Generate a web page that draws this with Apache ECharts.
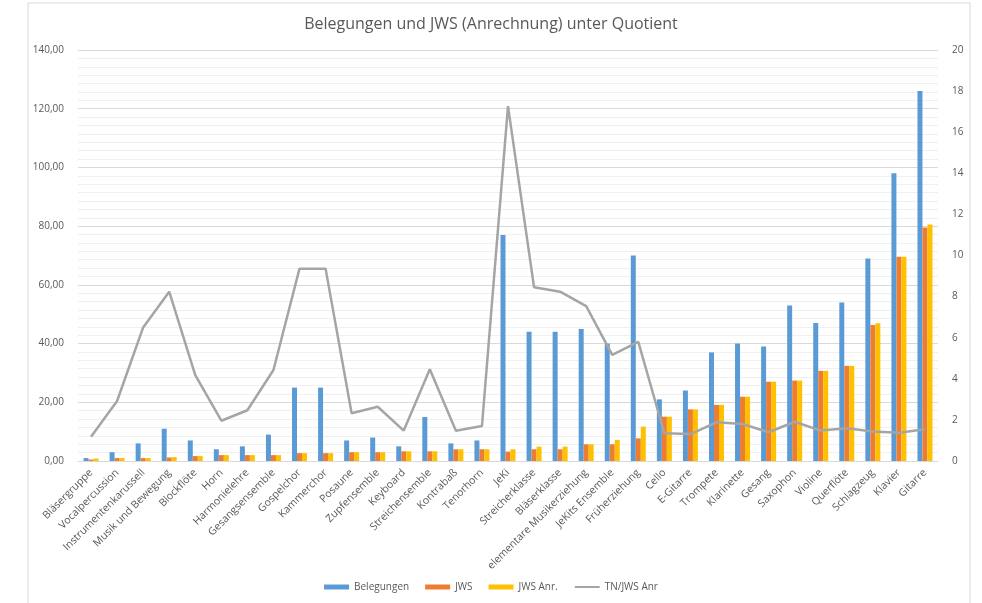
<!DOCTYPE html>
<html>
<head>
<meta charset="utf-8">
<script src="https://cdn.jsdelivr.net/npm/echarts@6/dist/echarts.min.js"></script>
<style>html,body{margin:0;padding:0;background:#fff;}#c{width:982px;height:603px;}</style>
</head>
<body>
<div id="c"></div>
<script>
const categories = ["Bläsergruppe","Vocalpercussion","Instrumentenkarussell","Musik und Bewegung","Blockflöte","Horn","Harmonielehre","Gesangsensemble","Gospelchor","Kammerchor","Posaune","Zupfensemble","Keyboard","Streichensemble","Kontrabaß","Tenorhorn","JeKi","Streicherklasse","Bläserklasse","elementare Musikerziehung","JeKits Ensemble","Früherziehung","Cello","E-Gitarre","Trompete","Klarinette","Gesang","Saxophon","Violine","Querflöte","Schlagzeug","Klavier","Gitarre"];
const belegungen = [1,3,6,11,7,4,5,9,25,25,7,8,5,15,6,7,77,44,44,45,40,70,21,24,37,40,39,53,47,54,69,98,126];
const jws = [0.5,1,1,1.2,1.67,2,2,2,2.67,2.67,3,3,3.3,3.3,4,4,3.2,4,4,5.7,5.7,7.7,15.1,17.6,19.1,21.9,27,27.4,30.7,32.4,46.3,69.6,79.5];
const jwsAnr = [0.85,1,1,1.33,1.67,2,2,2,2.67,2.67,3,3,3.3,3.3,4,4,4,4.9,4.9,5.7,7.2,11.7,15.1,17.6,19.1,21.9,27,27.4,30.7,32.4,46.9,69.6,80.6];
const tnJwsAnr = [1.18,2.92,6.5,8.24,4.18,1.96,2.47,4.43,9.36,9.36,2.32,2.64,1.48,4.46,1.47,1.7,17.27,8.45,8.24,7.54,5.16,5.8,1.35,1.31,1.88,1.8,1.4,1.91,1.48,1.59,1.43,1.38,1.54];
const leftTicks = {min:0, max:140, interval:20};
const rightTicks = {min:0, max:20, interval:2};

const FONT = "'Open Sans', 'Noto Sans', sans-serif";
const chart = echarts.init(document.getElementById('c'), null, {renderer:'canvas'});
chart.setOption({
  backgroundColor:'#fff',
  animation:false,
  textStyle:{fontFamily:FONT},
  graphic:[{type:'rect', shape:{x:28, y:3, width:942, height:610}, style:{fill:'none', stroke:'#d9d9d9', lineWidth:1}, silent:true, z:-1}],
  title:{text:'Belegungen und JWS (Anrechnung) unter Quotient', left:'center', top:11,
    textStyle:{fontFamily:FONT, fontSize:16, fontWeight:'normal', color:'#595959'}},
  legend:{bottom:6, left:'center', itemGap:16, itemWidth:25, itemHeight:5,
    textStyle:{fontFamily:FONT, fontSize:10, color:'#595959'},
    data:[{name:'Belegungen', icon:'rect'},{name:'JWS', icon:'rect'},{name:'JWS Anr.', icon:'rect'},
          {name:'TN/JWS Anr', itemStyle:{opacity:0}}]},
  grid:{left:78, right:44, top:50, bottom:142},
  xAxis:{type:'category', data:categories,
    axisLine:{lineStyle:{color:'#d9d9d9'}}, axisTick:{show:false},
    axisLabel:{rotate:45, interval:0, fontSize:10.5, color:'#595959', fontFamily:FONT, margin:10}},
  yAxis:[
    {type:'value', min:leftTicks.min, max:leftTicks.max, interval:leftTicks.interval,
      axisLine:{show:false}, axisTick:{show:false},
      axisLabel:{fontSize:10, color:'#595959', fontFamily:FONT, margin:14, formatter:v=>v.toFixed(2).replace('.',',')},
      splitLine:{lineStyle:{color:'#d9d9d9', width:1}},
      minorTick:{show:false, splitNumber:7},
      minorSplitLine:{show:true, lineStyle:{color:'#f0f0f0', width:1}}},
    {type:'value', min:rightTicks.min, max:rightTicks.max, interval:rightTicks.interval, position:'right',
      axisLine:{show:false}, axisTick:{show:false}, splitLine:{show:false},
      axisLabel:{fontSize:10, color:'#595959', fontFamily:FONT, margin:14}}
  ],
  series:[
    {name:'Belegungen', type:'bar', data:belegungen, barWidth:5, barGap:'20%', itemStyle:{color:'#5B9BD5'}},
    {name:'JWS', type:'bar', data:jws, barWidth:5, barGap:'0%', itemStyle:{color:'#ED7D31'}},
    {name:'JWS Anr.', type:'bar', data:jwsAnr, barWidth:5, barGap:'0%', itemStyle:{color:'#FFC000'}},
    {name:'TN/JWS Anr', type:'line', yAxisIndex:1, data:tnJwsAnr, symbol:'none',
      lineStyle:{color:'#A5A5A5', width:2.5}, itemStyle:{color:'#A5A5A5'}, z:3}
  ]
});
</script>
</body>
</html>
